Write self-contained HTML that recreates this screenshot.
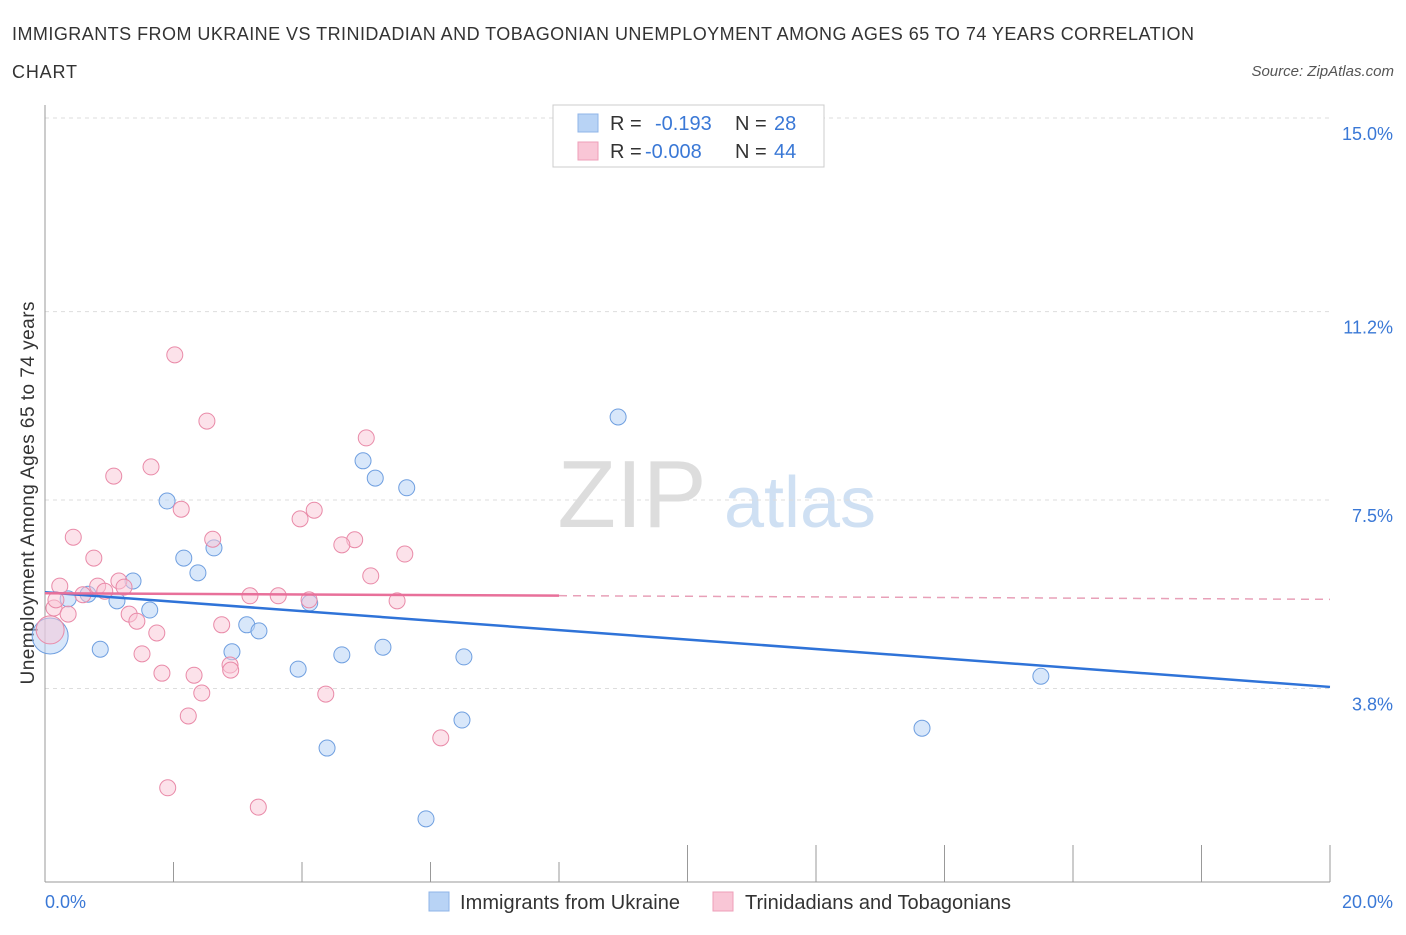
<!DOCTYPE html>
<html><head><meta charset="utf-8"><style>
body{margin:0;background:#fff;font-family:"Liberation Sans",sans-serif;}
svg text{font-family:"Liberation Sans",sans-serif;}
</style></head><body>
<svg id="chart" width="1406" height="930" xmlns="http://www.w3.org/2000/svg">
<text x="12" y="40" font-size="18" fill="#333" textLength="1182" lengthAdjust="spacing">IMMIGRANTS FROM UKRAINE VS TRINIDADIAN AND TOBAGONIAN UNEMPLOYMENT AMONG AGES 65 TO 74 YEARS CORRELATION</text>
<text x="12" y="78" font-size="18" fill="#333" textLength="65" lengthAdjust="spacing">CHART</text>
<text x="1394" y="76" font-size="15" fill="#555" text-anchor="end" font-style="italic">Source: ZipAtlas.com</text>
<text transform="translate(34,493) rotate(-90)" font-size="19" fill="#333" text-anchor="middle" textLength="383" lengthAdjust="spacing">Unemployment Among Ages 65 to 74 years</text>
<g>
<text x="632" y="527" font-size="96" fill="#ddd" font-family="Liberation Serif" text-anchor="middle">ZIP</text>
<text x="800" y="527" font-size="72" fill="#cfe0f3" text-anchor="middle">atlas</text>
</g>
<g id="grid"></g><g id="axes"></g><g id="marks"></g>
<g>
<rect x="553" y="105" width="271" height="62" fill="#fff" stroke="#ccc"/>
<rect x="578" y="114" width="20" height="18" fill="#b8d3f5" stroke="#8fb5e8"/>
<text x="610" y="130" font-size="20" fill="#333">R =</text><text x="655" y="130" font-size="20" fill="#3a78d6">-0.193</text>
<text x="735" y="130" font-size="20" fill="#333">N =</text><text x="774" y="130" font-size="20" fill="#3a78d6">28</text>
<rect x="578" y="142" width="20" height="18" fill="#f9c6d6" stroke="#ee9fb8"/>
<text x="610" y="158" font-size="20" fill="#333">R =</text><text x="645" y="158" font-size="20" fill="#3a78d6">-0.008</text>
<text x="735" y="158" font-size="20" fill="#333">N =</text><text x="774" y="158" font-size="20" fill="#3a78d6">44</text>
</g>
<g>
<rect x="429" y="892" width="20" height="19" fill="#b8d3f5" stroke="#8fb5e8"/>
<text x="460" y="909" font-size="20" fill="#333" textLength="220" lengthAdjust="spacing">Immigrants from Ukraine</text>
<rect x="713" y="892" width="20" height="19" fill="#f9c6d6" stroke="#ee9fb8"/>
<text x="745" y="909" font-size="20" fill="#333" textLength="266" lengthAdjust="spacing">Trinidadians and Tobagonians</text>
</g>
</svg>
<script>
const yTicks=[15.0,11.2,7.5,3.8];
const yTickLabels=["15.0%","11.2%","7.5%","3.8%"];
const xTickLabels=["0.0%","20.0%"];
const ukraineX=[8.92,4.95,5.14,5.63,1.90,2.63,2.16,2.38,1.37,0.67,0.36,1.12,1.63,4.12,3.14,3.33,0.86,2.91,3.94,4.62,5.26,6.52,15.50,13.65,6.49,4.39,5.93,0.08];
const ukraineY=[9.13,8.27,7.93,7.74,7.48,6.56,6.36,6.07,5.91,5.65,5.56,5.52,5.34,5.48,5.05,4.93,4.57,4.52,4.18,4.46,4.61,4.42,4.04,3.02,3.18,2.63,1.24,4.83];
const trinX=[2.02,2.52,5.00,1.65,1.07,2.12,4.19,3.97,0.44,2.61,4.82,4.62,0.76,5.60,5.07,0.23,0.82,1.15,1.23,0.93,0.59,3.19,3.63,4.11,5.48,0.14,0.36,1.31,1.43,2.75,1.74,1.51,2.88,2.32,1.82,2.89,2.44,4.37,2.23,6.16,1.91,3.32,0.08,0.17];
const trinY=[10.35,9.05,8.72,8.15,7.97,7.32,7.30,7.13,6.77,6.73,6.72,6.62,6.36,6.44,6.01,5.81,5.81,5.91,5.79,5.71,5.64,5.62,5.62,5.54,5.52,5.38,5.26,5.26,5.12,5.05,4.89,4.48,4.26,4.06,4.10,4.16,3.71,3.69,3.26,2.83,1.85,1.47,4.95,5.54];
const ukraineTrend=[5.69,3.83];
const trinTrend=[5.67,5.55];
const NS="http://www.w3.org/2000/svg";
const X=v=>45+v/20*1285, Y=v=>882-v*50.93;
function mk(p,t,a){const e=document.createElementNS(NS,t);for(const k in a)e.setAttribute(k,a[k]);document.getElementById(p).appendChild(e);return e;}
yTicks.forEach((t,i)=>{
 const l=mk('grid','line',{x1:45,x2:1330,y1:Y(t),y2:Y(t),stroke:'#ddd','stroke-dasharray':'4,4'});
 
 
 const tx=mk('grid','text',{x:1393,y:Y(t)+22,'font-size':18,fill:'#3a78d6','text-anchor':'end'});
 tx.textContent=yTickLabels[i];
 
 
});
const ax=mk('axes','line',{x1:45,x2:45,y1:105,y2:882,stroke:'#999'});


const bx=mk('axes','line',{x1:45,x2:1330,y1:882,y2:882,stroke:'#999'});


for(let i=0;i<=10;i++){
 const tk=mk('axes','line',{x1:X(i*2),x2:X(i*2),y1:i>=5?845:862,y2:882,stroke:'#999'});
 
 
}
[[0,45,'start'],[20,1393,'end']].forEach((d,i)=>{
 const t=mk('axes','text',{x:d[1],y:908,'font-size':18,fill:'#3a78d6','text-anchor':d[2]});
 t.textContent=xTickLabels[i];
 
 
});
ukraineX.forEach((x,i)=>{
 const c=mk('marks','circle',{cx:X(x),cy:Y(ukraineY[i]),r:i==27?18:8,fill:'rgba(184,211,245,0.55)',stroke:'#6f9fe0','stroke-width':1});
 
 
});
trinX.forEach((x,i)=>{
 const c=mk('marks','circle',{cx:X(x),cy:Y(trinY[i]),r:i==42?14:8,fill:'rgba(249,198,214,0.5)',stroke:'#e98aa8','stroke-width':1});
 
 
});
const ut=mk('marks','line',{x1:X(0),y1:Y(ukraineTrend[0]),x2:X(20),y2:Y(ukraineTrend[1]),stroke:'#2f73d8','stroke-width':2.5});


const tm=trinTrend[0]+(trinTrend[1]-trinTrend[0])*0.4;
const t1=mk('marks','line',{x1:X(0),y1:Y(trinTrend[0]),x2:X(8),y2:Y(tm),stroke:'#e8709a','stroke-width':2.5});


const t2=mk('marks','line',{x1:X(8),y1:Y(tm),x2:X(20),y2:Y(trinTrend[1]),stroke:'#e8a0b8','stroke-width':1.5,'stroke-dasharray':'8,6'});


</script>
</body></html>
